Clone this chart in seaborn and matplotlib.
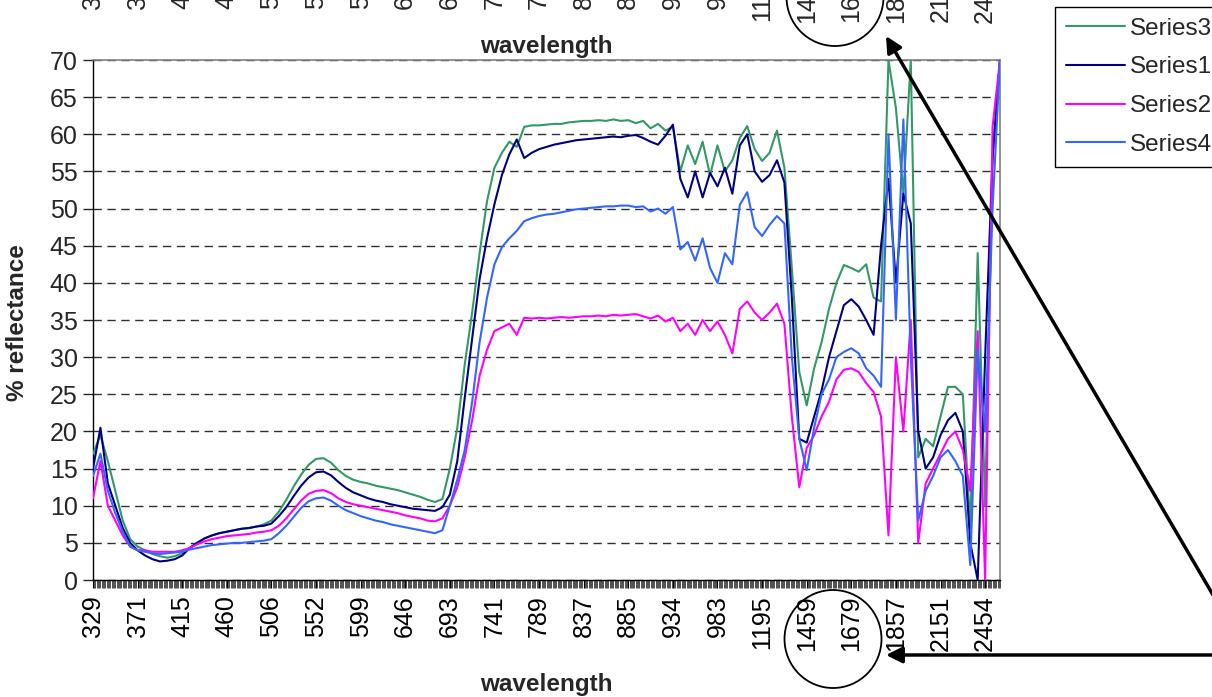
import numpy as np
import matplotlib
matplotlib.use("Agg")
import matplotlib.pyplot as plt
import seaborn as sns
from matplotlib.patches import Ellipse
from matplotlib.lines import Line2D
from matplotlib.transforms import blended_transform_factory
from matplotlib.ticker import MultipleLocator

# ---------------- data ----------------
tick_labels = ["329", "371", "415", "460", "506", "552", "599", "646", "693", "741",
               "789", "837", "885", "934", "983", "1195", "1459", "1679", "1857",
               "2151", "2454"]

series3 = [17.0, 19.5, 16.0, 12.0, 8.0, 5.5, 4.5,
           4.0, 3.5, 3.2, 3.0, 3.2, 3.6,
           4.3, 5.0, 5.6, 6.0, 6.3, 6.5,
           6.7, 6.9, 7.0, 7.2, 7.5, 8.0,
           9.2, 10.8, 12.6, 14.2, 15.5, 16.3,
           16.4, 15.8, 14.8, 14.0, 13.5, 13.2,
           13.0, 12.7, 12.5, 12.3, 12.1, 11.8,
           11.5, 11.2, 10.8, 10.5, 10.9, 15.0,
           20.5, 29.0, 36.0, 44.0, 51.0, 55.5,
           57.5, 59.0, 58.3, 61.0, 61.2, 61.2,
           61.3, 61.4, 61.4, 61.6, 61.7, 61.8,
           61.8, 61.9, 61.8, 62.0, 61.8, 61.9,
           61.5, 61.8, 60.8, 61.4, 60.5, 61.0,
           55.0, 58.5, 56.0, 59.0, 54.5, 58.5,
           55.0, 56.5, 59.5, 61.1, 58.0, 56.4,
           57.5, 60.5, 55.5, 42.0, 28.0, 23.5,
           28.5, 32.0, 36.5, 40.0, 42.4, 42.0,
           41.5, 42.5, 38.0, 37.5, 70.0, 63.5,
           52.0, 70.0, 16.5, 19.0, 18.0, 22.0,
           26.0, 26.0, 25.0, 7.0, 44.0, 10.0,
           56.5, 70.0]

series1 = [15.0, 20.5, 13.0, 10.0, 7.0, 5.0, 4.0,
           3.3, 2.8, 2.5, 2.6, 2.8, 3.3,
           4.3, 5.0, 5.6, 6.0, 6.3, 6.5,
           6.7, 6.9, 7.0, 7.2, 7.3, 7.6,
           8.6, 9.8, 11.3, 12.7, 13.8, 14.5,
           14.6, 14.1, 13.2, 12.4, 11.8, 11.4,
           11.0, 10.7, 10.5, 10.2, 10.0, 9.8,
           9.6, 9.5, 9.4, 9.3, 9.8, 11.5,
           16.0, 24.5, 32.5, 40.5, 46.0, 50.6,
           54.5, 57.3, 59.3, 56.8, 57.5, 58.0,
           58.3, 58.6, 58.8, 59.0, 59.2, 59.3,
           59.4, 59.5, 59.6, 59.7, 59.6, 59.8,
           59.9, 59.5, 59.0, 58.6, 59.8, 61.3,
           54.0, 51.5, 55.0, 51.5, 54.8, 53.0,
           55.5, 52.0, 58.5, 60.0, 55.0, 53.6,
           54.5, 56.5, 53.5, 38.0, 19.0, 18.5,
           22.0, 25.5, 30.0, 33.5, 37.0, 37.8,
           36.8, 35.0, 33.0, 45.0, 54.0, 40.0,
           52.0, 48.0, 20.0, 15.0, 16.5, 19.5,
           21.5, 22.5, 20.0, 5.0, 0.0, 30.0,
           57.0, 70.0]

series2 = [11.0, 16.0, 10.0, 8.0, 6.0, 4.5, 4.0,
           4.0, 3.8, 3.8, 3.8, 3.8, 4.0,
           4.3, 4.8, 5.2, 5.5, 5.7, 5.9,
           6.0, 6.1, 6.2, 6.4, 6.5, 6.7,
           7.3, 8.3, 9.5, 10.7, 11.6, 12.0,
           12.1, 11.7, 11.0, 10.5, 10.2, 10.0,
           9.8, 9.6, 9.4, 9.2, 9.0, 8.7,
           8.5, 8.3, 8.0, 7.9, 8.3, 10.0,
           12.5, 16.5, 21.5, 27.5, 31.0, 33.5,
           34.0, 34.5, 33.0, 35.3, 35.2, 35.3,
           35.2, 35.3, 35.4, 35.3, 35.4, 35.5,
           35.5, 35.6, 35.5, 35.7, 35.6, 35.7,
           35.8, 35.5, 35.2, 35.6, 34.8, 35.3,
           33.5, 34.5, 33.0, 35.0, 33.5, 34.8,
           33.0, 30.5, 36.5, 37.5, 36.0, 35.0,
           36.0, 37.2, 34.5, 22.0, 12.5, 17.8,
           19.5, 22.0, 24.0, 27.0, 28.3, 28.5,
           28.0, 26.5, 25.3, 22.0, 6.0, 30.0,
           20.0, 35.0, 5.0, 13.0, 15.0, 17.0,
           19.0, 20.0, 17.5, 12.0, 33.5, 0.0,
           61.0, 70.0]

series4 = [14.0, 17.0, 12.0, 9.0, 6.5, 4.5, 4.0,
           3.8, 3.6, 3.5, 3.6, 3.7, 3.8,
           4.1, 4.3, 4.5, 4.7, 4.8, 4.9,
           5.0, 5.0, 5.1, 5.2, 5.3, 5.5,
           6.3, 7.3, 8.5, 9.7, 10.6, 11.0,
           11.1, 10.7, 10.0, 9.4, 9.0, 8.6,
           8.3, 8.0, 7.8, 7.5, 7.3, 7.1,
           6.9, 6.7, 6.5, 6.3, 6.7, 10.0,
           13.5, 17.5, 24.0, 32.0, 38.0, 42.5,
           44.8, 46.0, 47.0, 48.3, 48.7, 49.0,
           49.2, 49.3, 49.5, 49.7, 49.9, 50.0,
           50.1, 50.2, 50.3, 50.3, 50.4, 50.4,
           50.2, 50.3, 49.6, 50.0, 49.3, 50.2,
           44.5, 45.5, 43.0, 46.0, 42.0, 40.0,
           44.0, 42.5, 50.5, 52.2, 47.5, 46.3,
           47.8, 49.0, 48.0, 30.0, 19.0, 14.8,
           20.5, 25.0, 27.0, 30.0, 30.7, 31.2,
           30.5, 28.5, 27.5, 26.0, 60.0, 35.0,
           62.0, 30.0, 8.0, 12.0, 14.0, 16.5,
           17.5, 16.0, 14.0, 2.0, 31.0, 20.0,
           50.0, 70.0]

series_names = ["Series3", "Series1", "Series2", "Series4"]
series_values = [series3, series1, series2, series4]
series_colors = ["#339966", "#000080", "#FF00FF", "#3366FF"]

# ---------------- style ----------------
sns.set_style("white")
plt.rcParams['font.family'] = ['Liberation Sans', 'DejaVu Sans']

W, H = 1212, 697
fig = plt.figure(figsize=(W / 100, H / 100), dpi=100)
ax = fig.add_axes([93 / W, (H - 580) / H, 907 / W, 520 / H])

for name, vals, col in zip(series_names, series_values, series_colors):
    sns.lineplot(x=np.arange(len(vals)), y=vals, color=col, linewidth=1.5,
                 ax=ax, legend=False, zorder=3)

ax.set_xlim(0, len(series3) - 1)
ax.set_ylim(0, 70)
ax.set_yticks(np.arange(0, 71, 5))
step = 6
ax.set_xticks(np.arange(len(tick_labels)) * step)
ax.set_xticklabels(tick_labels, rotation=90)
ax.xaxis.set_minor_locator(MultipleLocator(1 / step))

ax.tick_params(axis='x', which='major', bottom=True, length=6, width=0.8,
               pad=5, labelsize=18, direction='out', colors='black')
ax.tick_params(axis='x', which='minor', bottom=True, length=6, width=0.6,
               direction='out', color='#333333')
ax.tick_params(axis='y', which='major', left=True, length=7, width=1.0,
               pad=4, labelsize=18, direction='out')

ax.yaxis.grid(True, linestyle=(0, (6, 4)), color='#303030', linewidth=1.0)
ax.xaxis.grid(False)
ax.set_axisbelow(True)

for s in ['top', 'right']:
    ax.spines[s].set_color('#808080')
    ax.spines[s].set_linewidth(1.2)
for s in ['left', 'bottom']:
    ax.spines[s].set_color('black')
    ax.spines[s].set_linewidth(1.0)

# axis titles
ax.set_xlabel('wavelength', fontsize=17.5, fontweight='bold')
ax.xaxis.set_label_coords(0.5, (580 - 684) / 520)
ax.xaxis.label.set_va('center')
ax.set_ylabel('% reflectance', fontsize=17.5, fontweight='bold')
ax.yaxis.set_label_coords((18 - 93) / 907, (580 - 323) / 520)
ax.yaxis.label.set_va('center')
ax.set_title('wavelength', fontsize=17.5, fontweight='bold', y=1 + 14 / 520, pad=0)
ax.title.set_va('center')

# top category labels (cut by the figure edge, as in the reference)
trans = blended_transform_factory(ax.transData, fig.transFigure)
for k, lab in enumerate(tick_labels):
    ax.text(k * step, 1 + 33 / H, lab, rotation=90, ha='center', va='top',
            fontsize=18, transform=trans, clip_on=False)

# legend
handles = [Line2D([0], [0], color=c, lw=1.5) for c in series_colors]
leg = fig.legend(handles, series_names, loc='upper left',
                 bbox_to_anchor=(1055 / W, 1 - 7 / H), bbox_transform=fig.transFigure,
                 frameon=True, fancybox=False, edgecolor='black', framealpha=1,
                 fontsize=17.5, handlelength=2.45, handletextpad=0.2,
                 labelspacing=0.68, borderpad=0.45, borderaxespad=0)
leg.get_frame().set_linewidth(1.0)

# annotation overlay (circles and arrows) in pixel coordinates
oax = fig.add_axes([0, 0, 1, 1], zorder=10)
oax.set_xlim(0, W)
oax.set_ylim(H, 0)
oax.axis('off')
oax.patch.set_alpha(0)
oax.add_patch(Ellipse((833, 639), 97, 98, fill=False, lw=1.3, ec='black'))
oax.add_patch(Ellipse((835, -3), 97, 98, fill=False, lw=1.3, ec='black'))
arrow_kw = dict(arrowstyle='-|>', lw=2.5, color='black', mutation_scale=24,
                shrinkA=0, shrinkB=0)
oax.annotate('', xy=(886, 36), xytext=(1230, 624), arrowprops=arrow_kw,
             annotation_clip=False)
oax.annotate('', xy=(886, 655), xytext=(1230, 655), arrowprops=arrow_kw,
             annotation_clip=False)

fig.savefig('out.png', dpi=100)
